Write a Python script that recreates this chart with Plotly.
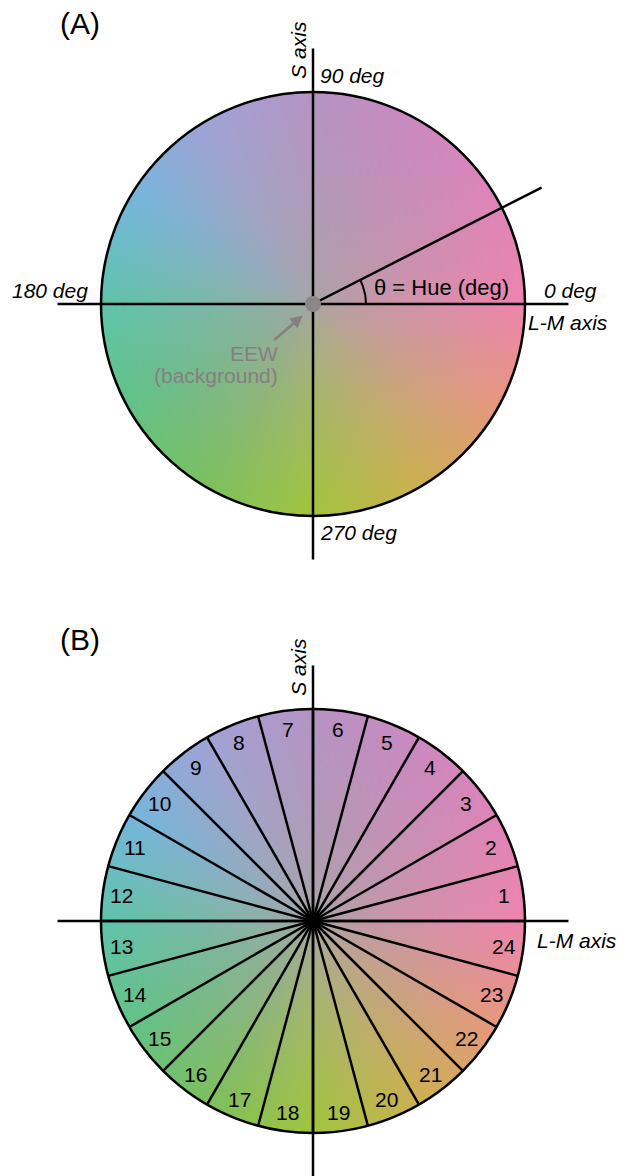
import numpy as np
import plotly.graph_objects as go

# ---------------- data ----------------
hue_ticks_deg = [0, 90, 180, 270]
hue_tick_labels = ["0 deg", "90 deg", "180 deg", "270 deg"]
example_hue_deg = 27
sector_ids = list(range(1, 25))
sector_width_deg = 15
# colours read from the rim of the wheel at these hue angles
anchor_hues_deg = [0, 30, 60, 90, 120, 150, 180, 210, 240, 270, 300, 330]
anchor_colors = ["#ee84ae", "#de84b8", "#cc88c0", "#b693c4", "#a0a2d6", "#74b6dc",
                 "#5ec4aa", "#62c284", "#7cc05e", "#a2c43c", "#ccb050", "#e6987c"]
center_color = "#a8a5a5"
panel_labels = ["(A)", "(B)"]

# ---------------- styling ----------------
FONT = "Liberation Sans, Arial, Helvetica, sans-serif"
PX = 212.0  # pixels per unit radius
LW = 2.5
GRAY = "#857f7f"
OFF = 8  # page body margin of the html page


def hex2rgb(h):
    h = h.lstrip("#")
    return [int(h[i:i + 2], 16) for i in (0, 2, 4)]


# colour wheel image (rendering of the anchor colours over the disc)
N = 340
coords = -1 + (np.arange(N) + 0.5) * 2 / N
X, Y = np.meshgrid(coords, coords)
R = np.hypot(X, Y)
TH = np.degrees(np.arctan2(Y, X)) % 360
anch = np.array([hex2rgb(c) for c in anchor_colors], float)
anch = np.vstack([anch, anch[:1]])
hh = np.array(anchor_hues_deg + [360], float)
rim = np.stack([np.interp(TH, hh, anch[:, k]) for k in range(3)], -1)
cen = np.array(hex2rgb(center_color), float)
t = (np.clip(R, 0, 1) ** 0.72)[..., None]
img = cen + (rim - cen) * t
img[R > 1.0] = 255
img = np.round(img).astype(np.uint8).tolist()

fig = go.Figure()
for xa, ya in (("x", "y"), ("x2", "y2")):
    fig.add_trace(go.Image(z=img, x0=coords[0], dx=2 / N, y0=coords[0], dy=2 / N,
                           zsmooth="fast", hoverinfo="skip", xaxis=xa, yaxis=ya))

shapes = []
annotations = []


def line(x0, y0, x1, y1, xr, yr, w=LW, color="black"):
    shapes.append(dict(type="line", x0=x0, y0=y0, x1=x1, y1=y1, xref=xr, yref=yr,
                       line=dict(color=color, width=w)))


def text(s, x, y, xr, yr, xanchor="center", yanchor="middle", size=21, angle=0, color="black"):
    annotations.append(dict(text=s, x=x, y=y, xref=xr, yref=yr, showarrow=False,
                            xanchor=xanchor, yanchor=yanchor, textangle=angle,
                            font=dict(family=FONT, size=size, color=color)))


EXT = 1.205
# ----- panel A -----
xr, yr = "x", "y"
line(-EXT, 0, EXT, 0, xr, yr)
line(0, -EXT, 0, EXT, xr, yr)
a = np.radians(example_hue_deg)
line(0, 0, 1.21 * np.cos(a), 1.21 * np.sin(a), xr, yr)
shapes.append(dict(type="circle", x0=-1, y0=-1, x1=1, y1=1, xref=xr, yref=yr,
                   line=dict(color="black", width=LW)))
dr = 8 / PX
shapes.append(dict(type="circle", x0=-dr, y0=-dr, x1=dr, y1=dr, xref=xr, yref=yr,
                   fillcolor="#8c8787", line=dict(width=0)))
arc_t = np.radians(np.linspace(0, example_hue_deg, 40))
fig.add_trace(go.Scatter(x=0.25 * np.cos(arc_t), y=0.25 * np.sin(arc_t), mode="lines",
                         line=dict(color="black", width=2), hoverinfo="skip",
                         xaxis=xr, yaxis=yr, showlegend=False))

text(panel_labels[0], -1.205, 1.322, xr, yr, xanchor="left", size=30)
text("<i>S axis</i>", -0.072, 1.198, xr, yr, angle=-90, size=21)
pos = {0: (1.08, 0.066, "left"), 90: (0.022, 1.08, "left"),
       180: (-1.052, 0.066, "right"), 270: (0.022, -1.08, "left")}
for d, lab in zip(hue_ticks_deg, hue_tick_labels):
    px_, py_, xa_ = pos[d]
    text("<i>" + lab + "</i>", px_, py_, xr, yr, xanchor=xa_, size=21)
text("<i>L-M axis</i>", 1.007, -0.088, xr, yr, xanchor="left", size=21)
text("θ = Hue (deg)", 0.28, 0.077, xr, yr, xanchor="left", size=22)
text("EEW", -0.155, -0.232, xr, yr, xanchor="right", size=21, color=GRAY)
text("(background)", -0.155, -0.336, xr, yr, xanchor="right", size=21, color=GRAY)
annotations.append(dict(x=-0.048, y=-0.054, ax=-0.19, ay=-0.176, xref=xr, yref=yr,
                        axref=xr, ayref=yr, showarrow=True, arrowhead=2, arrowsize=1,
                        arrowwidth=2.5, arrowcolor=GRAY, text=""))

# ----- panel B -----
xr, yr = "x2", "y2"
for k in range(len(sector_ids)):
    b = np.radians(k * sector_width_deg)
    line(0, 0, np.cos(b), np.sin(b), xr, yr)
line(-EXT, 0, EXT, 0, xr, yr)
line(0, -EXT, 0, EXT, xr, yr)
shapes.append(dict(type="circle", x0=-1, y0=-1, x1=1, y1=1, xref=xr, yref=yr,
                   line=dict(color="black", width=LW)))
for sid in sector_ids:
    m = np.radians((sid - 0.5) * sector_width_deg)
    text(str(sid), 0.91 * np.cos(m), 0.91 * np.sin(m), xr, yr, size=21)
text(panel_labels[1], -1.205, 1.328, xr, yr, xanchor="left", size=30)
text("<i>S axis</i>", -0.072, 1.198, xr, yr, angle=-90, size=21)
text("<i>L-M axis</i>", 1.045, -0.09, xr, yr, xanchor="left", size=21)

# screen centres of the two wheels: (313, 304) and (313, 921)
cx = 313 - OFF
cya = 304 - OFF
cyb = 921 - OFF
ax = dict(visible=False, range=[-cx / PX, (629 - cx) / PX], fixedrange=True)
fig.update_layout(
    width=629, height=1176, margin=dict(l=0, r=0, t=0, b=0),
    paper_bgcolor="white", plot_bgcolor="white", showlegend=False,
    xaxis=dict(ax, domain=[0, 1], anchor="y"),
    yaxis=dict(visible=False, fixedrange=True, domain=[0.5, 1], anchor="x",
               range=[-(588 - cya) / PX, cya / PX]),
    xaxis2=dict(ax, domain=[0, 1], anchor="y2"),
    yaxis2=dict(visible=False, fixedrange=True, domain=[0, 0.5], anchor="x2",
                range=[-(1176 - cyb) / PX, (cyb - 588) / PX]),
    shapes=shapes, annotations=annotations,
)
fig.write_html("out.html")
